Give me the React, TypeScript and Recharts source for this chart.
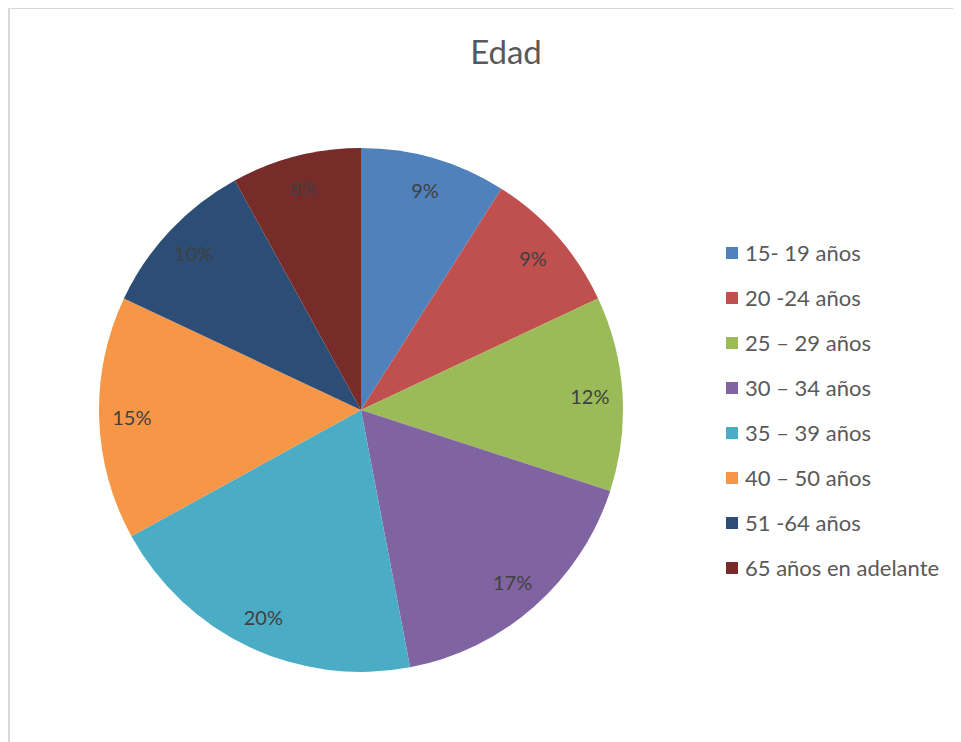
import React from 'react';
import { PieChart, Pie, Cell, Legend } from 'recharts';

const categories = [
  '15- 19 años',
  '20 -24 años',
  '25 – 29 años',
  '30 – 34 años',
  '35 – 39 años',
  '40 – 50 años',
  '51 -64 años',
  '65 años en adelante',
];
const values = [9, 9, 12, 17, 20, 15, 10, 8];
const colors = ['#4F81BD', '#C0504D', '#9BBB59', '#8064A2', '#4BACC6', '#F79646', '#2C4D75', '#772C2A'];

const data = categories.map((name, i) => ({ name, value: values[i] }));

const RAD = Math.PI / 180;
const FONT = 'Lato, "Noto Sans", sans-serif';

const renderLabel = (props: any) => {
  const { cx, cy, midAngle, outerRadius, value } = props;
  const r = outerRadius * 0.875;
  const x = cx + r * Math.cos(-midAngle * RAD);
  const y = cy + r * Math.sin(-midAngle * RAD);
  return (
    <text x={x} y={y} fill="#404040" fontSize={20} fontFamily={FONT} textAnchor="middle" dominantBaseline="central">
      {value}%
    </text>
  );
};

const renderLegend = () => (
  <ul style={{ listStyle: 'none', margin: 0, padding: 0, fontFamily: FONT }}>
    {data.map((d, i) => (
      <li key={d.name} style={{ height: 45, display: 'flex', alignItems: 'center', color: '#595959', fontSize: 22 }}>
        <span style={{ display: 'inline-block', width: 12, height: 12, background: colors[i], marginRight: 7 }} />
        {d.name}
      </li>
    ))}
  </ul>
);

export default function App() {
  return (
    <div style={{ position: 'relative', width: 953, height: 734 }}>
      <div
        style={{
          position: 'absolute', left: 0, top: -1, width: 953, height: 735,
          borderLeft: '2px solid #d9d9d9', borderTop: '2px solid #d9d9d9', pointerEvents: 'none',
        }}
      />
      <div
        style={{
          position: 'absolute', left: 0, width: 996, top: 23, textAlign: 'center',
          fontFamily: FONT, fontSize: 33, color: '#595959', lineHeight: '40px',
        }}
      >
        Edad
      </div>
      <PieChart width={953} height={734} margin={{ top: 0, right: 0, bottom: 0, left: 0 }}>
        <Pie
          data={data}
          dataKey="value"
          nameKey="name"
          cx={353}
          cy={402}
          outerRadius={262}
          startAngle={90}
          endAngle={-270}
          stroke="none"
          label={renderLabel}
          labelLine={false}
          isAnimationActive={false}
        >
          {data.map((d, i) => (
            <Cell key={d.name} fill={colors[i]} />
          ))}
        </Pie>
        <Legend
          layout="vertical"
          align="right"
          verticalAlign="middle"
          content={renderLegend}
          wrapperStyle={{ left: 718, top: 222, width: 235 }}
        />
      </PieChart>
    </div>
  );
}
